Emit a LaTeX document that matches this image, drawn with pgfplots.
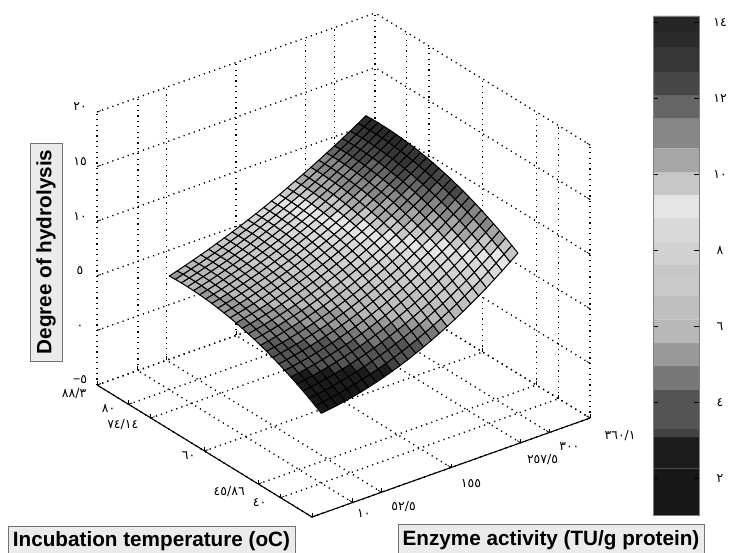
\documentclass[border=0pt]{standalone}
\usepackage{fontspec}
\setmainfont{Liberation Sans}
\newfontfamily\arf[Script=Arabic]{DejaVu Sans}
\usepackage{pgfplots}
\pgfplotsset{compat=1.18}
\newcommand\tl[3]{\smash{\raisebox{#2bp}{\makebox[0pt][l]{\hspace*{#1bp}\makebox[0pt][c]{\fontsize{12.5bp}{14bp}\arf #3}}}}}
\pgfplotsset{colormap={hyd}{
gray(1.03cm)=(.09);gray(2.25cm)=(.09);gray(2.26cm)=(.11);gray(3.07cm)=(.11);gray(3.08cm)=(.26);gray(3.28cm)=(.26);gray(3.29cm)=(.33);gray(4.31cm)=(.33);gray(4.32cm)=(.47);gray(4.94cm)=(.47);gray(4.95cm)=(.60);gray(5.54cm)=(.60);gray(5.55cm)=(.72);gray(6.17cm)=(.72);gray(6.18cm)=(.75);gray(6.78cm)=(.75);gray(6.79cm)=(.79);gray(7.36cm)=(.79);gray(7.37cm)=(.78);gray(7.60cm)=(.78);gray(7.61cm)=(.82);gray(8.20cm)=(.82);gray(8.21cm)=(.85);gray(8.83cm)=(.85);gray(8.84cm)=(.90);gray(9.44cm)=(.90);gray(9.45cm)=(.78);gray(10.04cm)=(.78);gray(10.05cm)=(.65);gray(10.67cm)=(.65);gray(10.68cm)=(.53);gray(11.46cm)=(.53);gray(11.47cm)=(.40);gray(12.07cm)=(.40);gray(12.08cm)=(.28);gray(12.67cm)=(.28);gray(12.68cm)=(.21);gray(13.33cm)=(.21);gray(13.34cm)=(.17);gray(13.73cm)=(.17);gray(13.74cm)=(.15);gray(14.16cm)=(.15)}}
\begin{document}
\begin{tikzpicture}
\path[use as bounding box] (0,0) rectangle (729bp,553bp);
\begin{axis}[
 at={(345.97bp,102.69bp)},anchor=origin,
 x={(0.678bp,0.2413bp)},y={(-3.80bp,2.334bp)},z={(0bp,10.92bp)},
 xmin=-50.1,xmax=360.1,ymin=31.72,ymax=88.28,zmin=-5,zmax=20,
 xtick={-50.1,10,52.5,155,257.5,300,360.1},
 xticklabels={,\tl{11}{-15}{١٠},\tl{22}{-18}{٥٢/٥},\tl{20}{-20}{١٥٥},\tl{22}{-21}{٢٥٧/٥},\tl{20}{-18}{٣٠٠},\tl{30}{-21}{٣٦٠/١}},
 ytick={31.72,40,45.86,60,74.14,80,88.28},
 yticklabels={,\tl{-21}{-9}{٤٠},\tl{-29}{-12}{٤٥/٨٦},\tl{-16}{-9}{٦٠},\tl{-28}{-11}{٧٤/١٤},\tl{-20}{-8}{٨٠},\tl{-23}{-13}{٨٨/٣}},
 ztick={-5,0,5,10,15,20},
 zticklabels={\tl{-17}{1}{{\normalfont −}٥},\tl{-17}{1}{٠},\tl{-17}{1}{٥},\tl{-17}{1}{١٠},\tl{-17}{1}{١٥},\tl{-17}{1}{٢٠}},
 every tick label/.append style={anchor=center,inner sep=0pt,outer sep=0pt},
 grid=major,
 grid style={black,line width=1.4bp,dash pattern=on 1.2bp off 4.2bp},
 axis line style={draw=none},
 tickpos=left,
 major tick length=4bp,
 tick style={black,line width=.7bp},
 colormap name=hyd,
 point meta min=1.03,point meta max=14.16,
 clip=false,
]
\addplot3[black,line width=1.1bp,forget plot] coordinates {(-50.1,31.72,-5) (360.1,31.72,-5)};
\addplot3[black,line width=1.1bp,forget plot] coordinates {(-50.1,31.72,-5) (-50.1,88.28,-5)};
\addplot3[surf,shader=faceted,faceted color=black,line width=1bp,mesh/ordering=x varies,mesh/cols=26] coordinates {
(10,40,1.40)(21.6,40,1.49)(33.2,40,1.60)(44.8,40,1.73)(56.4,40,1.88)(68,40,2.05)(79.6,40,2.24)(91.2,40,2.45)(102.8,40,2.68)(114.4,40,2.93)(126,40,3.20)(137.6,40,3.49)(149.2,40,3.81)(160.8,40,4.14)(172.4,40,4.49)(184,40,4.86)(195.6,40,5.25)(207.2,40,5.66)(218.8,40,6.09)(230.4,40,6.54)(242,40,7.01)(253.6,40,7.50)(265.2,40,8.02)(276.8,40,8.55)(288.4,40,9.10)(300,40,9.67)
(10,41.6,1.75)(21.6,41.6,1.85)(33.2,41.6,1.96)(44.8,41.6,2.10)(56.4,41.6,2.25)(68,41.6,2.42)(79.6,41.6,2.62)(91.2,41.6,2.83)(102.8,41.6,3.06)(114.4,41.6,3.31)(126,41.6,3.59)(137.6,41.6,3.88)(149.2,41.6,4.19)(160.8,41.6,4.52)(172.4,41.6,4.87)(184,41.6,5.24)(195.6,41.6,5.63)(207.2,41.6,6.04)(218.8,41.6,6.47)(230.4,41.6,6.92)(242,41.6,7.39)(253.6,41.6,7.87)(265.2,41.6,8.38)(276.8,41.6,8.91)(288.4,41.6,9.46)(300,41.6,10.02)
(10,43.2,2.09)(21.6,43.2,2.19)(33.2,43.2,2.31)(44.8,43.2,2.45)(56.4,43.2,2.60)(68,43.2,2.78)(79.6,43.2,2.98)(91.2,43.2,3.19)(102.8,43.2,3.43)(114.4,43.2,3.68)(126,43.2,3.95)(137.6,43.2,4.25)(149.2,43.2,4.56)(160.8,43.2,4.89)(172.4,43.2,5.24)(184,43.2,5.61)(195.6,43.2,6.00)(207.2,43.2,6.40)(218.8,43.2,6.83)(230.4,43.2,7.28)(242,43.2,7.74)(253.6,43.2,8.23)(265.2,43.2,8.73)(276.8,43.2,9.25)(288.4,43.2,9.80)(300,43.2,10.36)
(10,44.8,2.41)(21.6,44.8,2.51)(33.2,44.8,2.64)(44.8,44.8,2.78)(56.4,44.8,2.94)(68,44.8,3.12)(79.6,44.8,3.32)(91.2,44.8,3.54)(102.8,44.8,3.77)(114.4,44.8,4.03)(126,44.8,4.30)(137.6,44.8,4.60)(149.2,44.8,4.91)(160.8,44.8,5.24)(172.4,44.8,5.59)(184,44.8,5.96)(195.6,44.8,6.34)(207.2,44.8,6.75)(218.8,44.8,7.18)(230.4,44.8,7.62)(242,44.8,8.08)(253.6,44.8,8.56)(265.2,44.8,9.07)(276.8,44.8,9.58)(288.4,44.8,10.12)(300,44.8,10.68)
(10,46.4,2.71)(21.6,46.4,2.82)(33.2,46.4,2.95)(44.8,46.4,3.10)(56.4,46.4,3.26)(68,46.4,3.45)(79.6,46.4,3.65)(91.2,46.4,3.87)(102.8,46.4,4.11)(114.4,46.4,4.36)(126,46.4,4.64)(137.6,46.4,4.93)(149.2,46.4,5.25)(160.8,46.4,5.58)(172.4,46.4,5.93)(184,46.4,6.29)(195.6,46.4,6.68)(207.2,46.4,7.08)(218.8,46.4,7.51)(230.4,46.4,7.95)(242,46.4,8.41)(253.6,46.4,8.89)(265.2,46.4,9.38)(276.8,46.4,9.90)(288.4,46.4,10.43)(300,46.4,10.98)
(10,48,3.00)(21.6,48,3.12)(33.2,48,3.25)(44.8,48,3.40)(56.4,48,3.57)(68,48,3.75)(79.6,48,3.96)(91.2,48,4.18)(102.8,48,4.42)(114.4,48,4.68)(126,48,4.96)(137.6,48,5.25)(149.2,48,5.57)(160.8,48,5.90)(172.4,48,6.25)(184,48,6.61)(195.6,48,7.00)(207.2,48,7.40)(218.8,48,7.82)(230.4,48,8.26)(242,48,8.72)(253.6,48,9.19)(265.2,48,9.69)(276.8,48,10.20)(288.4,48,10.72)(300,48,11.27)
(10,49.6,3.27)(21.6,49.6,3.39)(33.2,49.6,3.53)(44.8,49.6,3.68)(56.4,49.6,3.86)(68,49.6,4.05)(79.6,49.6,4.25)(91.2,49.6,4.48)(102.8,49.6,4.72)(114.4,49.6,4.98)(126,49.6,5.26)(137.6,49.6,5.56)(149.2,49.6,5.87)(160.8,49.6,6.20)(172.4,49.6,6.55)(184,49.6,6.91)(195.6,49.6,7.30)(207.2,49.6,7.70)(218.8,49.6,8.12)(230.4,49.6,8.56)(242,49.6,9.01)(253.6,49.6,9.48)(265.2,49.6,9.97)(276.8,49.6,10.48)(288.4,49.6,11.00)(300,49.6,11.54)
(10,51.2,3.53)(21.6,51.2,3.65)(33.2,51.2,3.80)(44.8,51.2,3.96)(56.4,51.2,4.13)(68,51.2,4.32)(79.6,51.2,4.54)(91.2,51.2,4.76)(102.8,51.2,5.01)(114.4,51.2,5.27)(126,51.2,5.55)(137.6,51.2,5.85)(149.2,51.2,6.16)(160.8,51.2,6.49)(172.4,51.2,6.84)(184,51.2,7.20)(195.6,51.2,7.58)(207.2,51.2,7.98)(218.8,51.2,8.40)(230.4,51.2,8.84)(242,51.2,9.29)(253.6,51.2,9.75)(265.2,51.2,10.24)(276.8,51.2,10.74)(288.4,51.2,11.26)(300,51.2,11.80)
(10,52.8,3.77)(21.6,52.8,3.90)(33.2,52.8,4.05)(44.8,52.8,4.21)(56.4,52.8,4.39)(68,52.8,4.59)(79.6,52.8,4.80)(91.2,52.8,5.03)(102.8,52.8,5.28)(114.4,52.8,5.54)(126,52.8,5.82)(137.6,52.8,6.12)(149.2,52.8,6.43)(160.8,52.8,6.76)(172.4,52.8,7.11)(184,52.8,7.47)(195.6,52.8,7.85)(207.2,52.8,8.25)(218.8,52.8,8.67)(230.4,52.8,9.10)(242,52.8,9.55)(253.6,52.8,10.01)(265.2,52.8,10.49)(276.8,52.8,10.99)(288.4,52.8,11.51)(300,52.8,12.04)
(10,54.4,4.00)(21.6,54.4,4.13)(33.2,54.4,4.28)(44.8,54.4,4.45)(56.4,54.4,4.63)(68,54.4,4.83)(79.6,54.4,5.05)(91.2,54.4,5.28)(102.8,54.4,5.53)(114.4,54.4,5.79)(126,54.4,6.07)(137.6,54.4,6.37)(149.2,54.4,6.69)(160.8,54.4,7.02)(172.4,54.4,7.37)(184,54.4,7.73)(195.6,54.4,8.11)(207.2,54.4,8.51)(218.8,54.4,8.92)(230.4,54.4,9.35)(242,54.4,9.79)(253.6,54.4,10.25)(265.2,54.4,10.73)(276.8,54.4,11.23)(288.4,54.4,11.74)(300,54.4,12.27)
(10,56,4.20)(21.6,56,4.34)(33.2,56,4.50)(44.8,56,4.67)(56.4,56,4.86)(68,56,5.06)(79.6,56,5.28)(91.2,56,5.51)(102.8,56,5.76)(114.4,56,6.03)(126,56,6.31)(137.6,56,6.61)(149.2,56,6.93)(160.8,56,7.26)(172.4,56,7.60)(184,56,7.97)(195.6,56,8.35)(207.2,56,8.74)(218.8,56,9.15)(230.4,56,9.58)(242,56,10.02)(253.6,56,10.48)(265.2,56,10.95)(276.8,56,11.44)(288.4,56,11.95)(300,56,12.47)
(10,57.6,4.40)(21.6,57.6,4.54)(33.2,57.6,4.70)(44.8,57.6,4.88)(56.4,57.6,5.07)(68,57.6,5.27)(79.6,57.6,5.49)(91.2,57.6,5.73)(102.8,57.6,5.98)(114.4,57.6,6.25)(126,57.6,6.54)(137.6,57.6,6.84)(149.2,57.6,7.15)(160.8,57.6,7.48)(172.4,57.6,7.83)(184,57.6,8.19)(195.6,57.6,8.57)(207.2,57.6,8.96)(218.8,57.6,9.37)(230.4,57.6,9.80)(242,57.6,10.23)(253.6,57.6,10.69)(265.2,57.6,11.16)(276.8,57.6,11.65)(288.4,57.6,12.15)(300,57.6,12.67)
(10,59.2,4.57)(21.6,59.2,4.72)(33.2,59.2,4.89)(44.8,59.2,5.07)(56.4,59.2,5.26)(68,59.2,5.47)(79.6,59.2,5.69)(91.2,59.2,5.94)(102.8,59.2,6.19)(114.4,59.2,6.46)(126,59.2,6.75)(137.6,59.2,7.05)(149.2,59.2,7.36)(160.8,59.2,7.69)(172.4,59.2,8.04)(184,59.2,8.40)(195.6,59.2,8.78)(207.2,59.2,9.17)(218.8,59.2,9.57)(230.4,59.2,10.00)(242,59.2,10.43)(253.6,59.2,10.88)(265.2,59.2,11.35)(276.8,59.2,11.83)(288.4,59.2,12.33)(300,59.2,12.84)
(10,60.8,4.73)(21.6,60.8,4.89)(33.2,60.8,5.06)(44.8,60.8,5.24)(56.4,60.8,5.44)(68,60.8,5.65)(79.6,60.8,5.88)(91.2,60.8,6.12)(102.8,60.8,6.38)(114.4,60.8,6.65)(126,60.8,6.94)(137.6,60.8,7.24)(149.2,60.8,7.55)(160.8,60.8,7.88)(172.4,60.8,8.23)(184,60.8,8.59)(195.6,60.8,8.96)(207.2,60.8,9.35)(218.8,60.8,9.76)(230.4,60.8,10.18)(242,60.8,10.61)(253.6,60.8,11.06)(265.2,60.8,11.53)(276.8,60.8,12.00)(288.4,60.8,12.50)(300,60.8,13.00)
(10,62.4,4.88)(21.6,62.4,5.04)(33.2,62.4,5.21)(44.8,62.4,5.40)(56.4,62.4,5.60)(68,62.4,5.82)(79.6,62.4,6.05)(91.2,62.4,6.29)(102.8,62.4,6.55)(114.4,62.4,6.82)(126,62.4,7.11)(137.6,62.4,7.41)(149.2,62.4,7.73)(160.8,62.4,8.06)(172.4,62.4,8.41)(184,62.4,8.77)(195.6,62.4,9.14)(207.2,62.4,9.53)(218.8,62.4,9.93)(230.4,62.4,10.35)(242,62.4,10.78)(253.6,62.4,11.22)(265.2,62.4,11.68)(276.8,62.4,12.16)(288.4,62.4,12.65)(300,62.4,13.15)
(10,64,5.01)(21.6,64,5.17)(33.2,64,5.35)(44.8,64,5.54)(56.4,64,5.75)(68,64,5.97)(79.6,64,6.20)(91.2,64,6.45)(102.8,64,6.71)(114.4,64,6.98)(126,64,7.27)(137.6,64,7.57)(149.2,64,7.89)(160.8,64,8.22)(172.4,64,8.57)(184,64,8.93)(195.6,64,9.30)(207.2,64,9.68)(218.8,64,10.08)(230.4,64,10.50)(242,64,10.93)(253.6,64,11.37)(265.2,64,11.83)(276.8,64,12.30)(288.4,64,12.78)(300,64,13.28)
(10,65.6,5.12)(21.6,65.6,5.29)(33.2,65.6,5.47)(44.8,65.6,5.67)(56.4,65.6,5.88)(68,65.6,6.10)(79.6,65.6,6.34)(91.2,65.6,6.59)(102.8,65.6,6.85)(114.4,65.6,7.13)(126,65.6,7.42)(137.6,65.6,7.72)(149.2,65.6,8.04)(160.8,65.6,8.37)(172.4,65.6,8.71)(184,65.6,9.07)(195.6,65.6,9.44)(207.2,65.6,9.82)(218.8,65.6,10.22)(230.4,65.6,10.64)(242,65.6,11.06)(253.6,65.6,11.50)(265.2,65.6,11.95)(276.8,65.6,12.42)(288.4,65.6,12.90)(300,65.6,13.39)
(10,67.2,5.22)(21.6,67.2,5.39)(33.2,67.2,5.58)(44.8,67.2,5.78)(56.4,67.2,5.99)(68,67.2,6.22)(79.6,67.2,6.46)(91.2,67.2,6.71)(102.8,67.2,6.97)(114.4,67.2,7.25)(126,67.2,7.54)(137.6,67.2,7.85)(149.2,67.2,8.17)(160.8,67.2,8.50)(172.4,67.2,8.84)(184,67.2,9.20)(195.6,67.2,9.57)(207.2,67.2,9.95)(218.8,67.2,10.35)(230.4,67.2,10.76)(242,67.2,11.18)(253.6,67.2,11.61)(265.2,67.2,12.06)(276.8,67.2,12.52)(288.4,67.2,13.00)(300,67.2,13.49)
(10,68.8,5.30)(21.6,68.8,5.48)(33.2,68.8,5.67)(44.8,68.8,5.87)(56.4,68.8,6.09)(68,68.8,6.32)(79.6,68.8,6.56)(91.2,68.8,6.81)(102.8,68.8,7.08)(114.4,68.8,7.36)(126,68.8,7.65)(137.6,68.8,7.96)(149.2,68.8,8.28)(160.8,68.8,8.61)(172.4,68.8,8.95)(184,68.8,9.31)(195.6,68.8,9.68)(207.2,68.8,10.06)(218.8,68.8,10.45)(230.4,68.8,10.86)(242,68.8,11.28)(253.6,68.8,11.71)(265.2,68.8,12.16)(276.8,68.8,12.62)(288.4,68.8,13.09)(300,68.8,13.57)
(10,70.4,5.36)(21.6,70.4,5.55)(33.2,70.4,5.74)(44.8,70.4,5.95)(56.4,70.4,6.17)(68,70.4,6.40)(79.6,70.4,6.65)(91.2,70.4,6.91)(102.8,70.4,7.18)(114.4,70.4,7.46)(126,70.4,7.75)(137.6,70.4,8.06)(149.2,70.4,8.38)(160.8,70.4,8.71)(172.4,70.4,9.05)(184,70.4,9.41)(195.6,70.4,9.77)(207.2,70.4,10.15)(218.8,70.4,10.54)(230.4,70.4,10.95)(242,70.4,11.37)(253.6,70.4,11.80)(265.2,70.4,12.24)(276.8,70.4,12.69)(288.4,70.4,13.16)(300,70.4,13.63)
(10,72,5.41)(21.6,72,5.60)(33.2,72,5.80)(44.8,72,6.01)(56.4,72,6.24)(68,72,6.47)(79.6,72,6.72)(91.2,72,6.98)(102.8,72,7.25)(114.4,72,7.54)(126,72,7.83)(137.6,72,8.14)(149.2,72,8.46)(160.8,72,8.79)(172.4,72,9.13)(184,72,9.48)(195.6,72,9.85)(207.2,72,10.23)(218.8,72,10.62)(230.4,72,11.02)(242,72,11.44)(253.6,72,11.86)(265.2,72,12.30)(276.8,72,12.75)(288.4,72,13.21)(300,72,13.68)
(10,73.6,5.45)(21.6,73.6,5.64)(33.2,73.6,5.84)(44.8,73.6,6.06)(56.4,73.6,6.29)(68,73.6,6.53)(79.6,73.6,6.78)(91.2,73.6,7.04)(102.8,73.6,7.31)(114.4,73.6,7.60)(126,73.6,7.89)(137.6,73.6,8.20)(149.2,73.6,8.52)(160.8,73.6,8.85)(172.4,73.6,9.19)(184,73.6,9.55)(195.6,73.6,9.91)(207.2,73.6,10.29)(218.8,73.6,10.68)(230.4,73.6,11.08)(242,73.6,11.49)(253.6,73.6,11.91)(265.2,73.6,12.35)(276.8,73.6,12.79)(288.4,73.6,13.25)(300,73.6,13.72)
(10,75.2,5.46)(21.6,75.2,5.66)(33.2,75.2,5.87)(44.8,75.2,6.09)(56.4,75.2,6.32)(68,75.2,6.57)(79.6,75.2,6.82)(91.2,75.2,7.08)(102.8,75.2,7.36)(114.4,75.2,7.65)(126,75.2,7.94)(137.6,75.2,8.25)(149.2,75.2,8.57)(160.8,75.2,8.90)(172.4,75.2,9.24)(184,75.2,9.60)(195.6,75.2,9.96)(207.2,75.2,10.33)(218.8,75.2,10.72)(230.4,75.2,11.12)(242,75.2,11.53)(253.6,75.2,11.95)(265.2,75.2,12.38)(276.8,75.2,12.82)(288.4,75.2,13.27)(300,75.2,13.73)
(10,76.8,5.47)(21.6,76.8,5.67)(33.2,76.8,5.88)(44.8,76.8,6.11)(56.4,76.8,6.34)(68,76.8,6.59)(79.6,76.8,6.84)(91.2,76.8,7.11)(102.8,76.8,7.39)(114.4,76.8,7.68)(126,76.8,7.98)(137.6,76.8,8.28)(149.2,76.8,8.61)(160.8,76.8,8.94)(172.4,76.8,9.28)(184,76.8,9.63)(195.6,76.8,9.99)(207.2,76.8,10.36)(218.8,76.8,10.75)(230.4,76.8,11.14)(242,76.8,11.55)(253.6,76.8,11.97)(265.2,76.8,12.39)(276.8,76.8,12.83)(288.4,76.8,13.28)(300,76.8,13.74)
(10,78.4,5.45)(21.6,78.4,5.66)(33.2,78.4,5.88)(44.8,78.4,6.10)(56.4,78.4,6.34)(68,78.4,6.59)(79.6,78.4,6.85)(91.2,78.4,7.12)(102.8,78.4,7.40)(114.4,78.4,7.69)(126,78.4,7.99)(137.6,78.4,8.30)(149.2,78.4,8.62)(160.8,78.4,8.95)(172.4,78.4,9.29)(184,78.4,9.64)(195.6,78.4,10.01)(207.2,78.4,10.38)(218.8,78.4,10.76)(230.4,78.4,11.15)(242,78.4,11.56)(253.6,78.4,11.97)(265.2,78.4,12.39)(276.8,78.4,12.82)(288.4,78.4,13.27)(300,78.4,13.72)
(10,80,5.42)(21.6,80,5.63)(33.2,80,5.86)(44.8,80,6.09)(56.4,80,6.33)(68,80,6.58)(79.6,80,6.85)(91.2,80,7.12)(102.8,80,7.40)(114.4,80,7.69)(126,80,7.99)(137.6,80,8.30)(149.2,80,8.62)(160.8,80,8.95)(172.4,80,9.29)(184,80,9.65)(195.6,80,10.01)(207.2,80,10.38)(218.8,80,10.76)(230.4,80,11.15)(242,80,11.55)(253.6,80,11.95)(265.2,80,12.37)(276.8,80,12.80)(288.4,80,13.24)(300,80,13.69)
};
\end{axis}
\begin{axis}[
 at={(653bp,38bp)},anchor=south west,
 width=46bp,height=499bp,scale only axis,
 xmin=0,xmax=1,ymin=1.03,ymax=14.16,
 xtick=\empty,
 ytick={2,4,6,8,10,12,14},
 yticklabels={\tl{21}{-4}{٢},\tl{21}{-4}{٤},\tl{21}{-4}{٦},\tl{21}{-4}{٨},\tl{21}{-4}{١٠},\tl{21}{-4}{١٢},\tl{21}{-4}{١٤}},
 ytick pos=both,yticklabel pos=right,
 tick align=inside,major tick length=5bp,
 tick style={black,line width=.7bp},
 yticklabel style={anchor=center,inner sep=0pt,outer sep=0pt},
 axis line style={draw=black!50,line width=.6bp},
 axis on top,
]
\addplot[draw=none,fill=black!91] coordinates {(0,1.03)(1,1.03)(1,2.26)(0,2.26)} \closedcycle;
\addplot[draw=none,fill=black!89] coordinates {(0,2.26)(1,2.26)(1,3.08)(0,3.08)} \closedcycle;
\addplot[draw=none,fill=black!74] coordinates {(0,3.08)(1,3.08)(1,3.29)(0,3.29)} \closedcycle;
\addplot[draw=none,fill=black!67] coordinates {(0,3.29)(1,3.29)(1,4.32)(0,4.32)} \closedcycle;
\addplot[draw=none,fill=black!53] coordinates {(0,4.32)(1,4.32)(1,4.95)(0,4.95)} \closedcycle;
\addplot[draw=none,fill=black!40] coordinates {(0,4.95)(1,4.95)(1,5.55)(0,5.55)} \closedcycle;
\addplot[draw=none,fill=black!28] coordinates {(0,5.55)(1,5.55)(1,6.18)(0,6.18)} \closedcycle;
\addplot[draw=none,fill=black!25] coordinates {(0,6.18)(1,6.18)(1,6.79)(0,6.79)} \closedcycle;
\addplot[draw=none,fill=black!21] coordinates {(0,6.79)(1,6.79)(1,7.37)(0,7.37)} \closedcycle;
\addplot[draw=none,fill=black!22] coordinates {(0,7.37)(1,7.37)(1,7.61)(0,7.61)} \closedcycle;
\addplot[draw=none,fill=black!18] coordinates {(0,7.61)(1,7.61)(1,8.21)(0,8.21)} \closedcycle;
\addplot[draw=none,fill=black!15] coordinates {(0,8.21)(1,8.21)(1,8.84)(0,8.84)} \closedcycle;
\addplot[draw=none,fill=black!10] coordinates {(0,8.84)(1,8.84)(1,9.45)(0,9.45)} \closedcycle;
\addplot[draw=none,fill=black!22] coordinates {(0,9.45)(1,9.45)(1,10.05)(0,10.05)} \closedcycle;
\addplot[draw=none,fill=black!35] coordinates {(0,10.05)(1,10.05)(1,10.68)(0,10.68)} \closedcycle;
\addplot[draw=none,fill=black!47] coordinates {(0,10.68)(1,10.68)(1,11.47)(0,11.47)} \closedcycle;
\addplot[draw=none,fill=black!60] coordinates {(0,11.47)(1,11.47)(1,12.08)(0,12.08)} \closedcycle;
\addplot[draw=none,fill=black!72] coordinates {(0,12.08)(1,12.08)(1,12.68)(0,12.68)} \closedcycle;
\addplot[draw=none,fill=black!79] coordinates {(0,12.68)(1,12.68)(1,13.34)(0,13.34)} \closedcycle;
\addplot[draw=none,fill=black!83] coordinates {(0,13.34)(1,13.34)(1,13.74)(0,13.74)} \closedcycle;
\addplot[draw=none,fill=black!85] coordinates {(0,13.74)(1,13.74)(1,14.16)(0,14.16)} \closedcycle;
\addplot[black,line width=1bp] coordinates {(1,1.03)(1,14.16)};
\end{axis}
\node[draw=black!55,fill=black!8,rotate=90,font=\bfseries\fontsize{20.7bp}{23bp}\selectfont,inner sep=0pt,minimum height=32bp,minimum width=218bp] at (46bp,301bp) {Degree of hydrolysis};
\node[draw=black!55,fill=black!8,font=\bfseries\fontsize{20.7bp}{23bp}\selectfont,inner sep=0pt,minimum height=30bp,minimum width=287bp] at (151.5bp,12bp) {Incubation temperature (oC)};
\node[draw=black!55,fill=black!8,font=\bfseries\fontsize{20.7bp}{23bp}\selectfont,inner sep=0pt,minimum height=32bp,minimum width=306bp] at (551bp,13bp) {Enzyme activity (TU/g protein)};
\end{tikzpicture}
\end{document}
